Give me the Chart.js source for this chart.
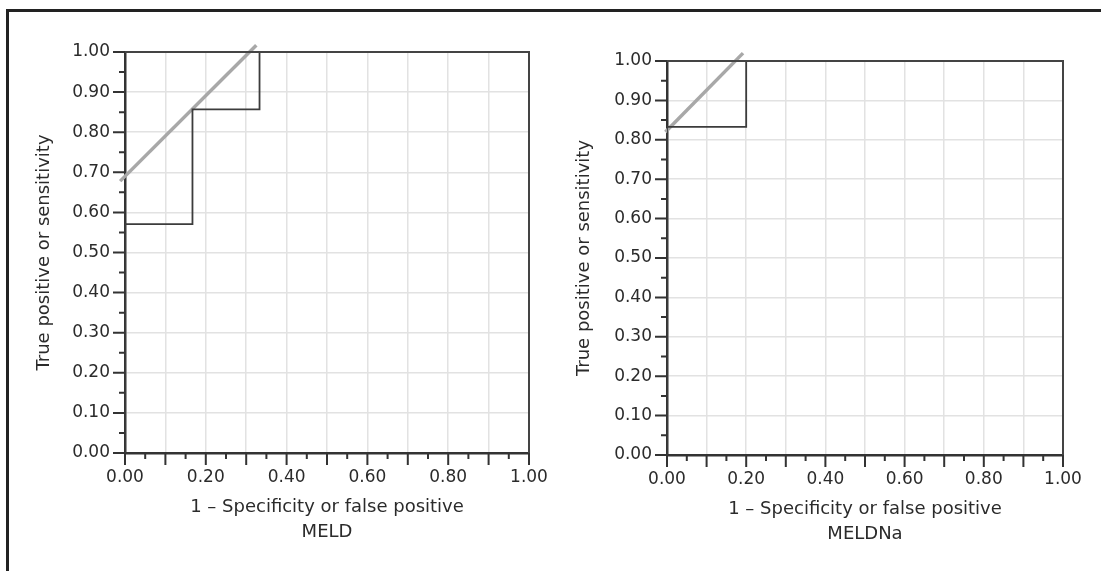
<!DOCTYPE html>
<html>
<head>
<meta charset="utf-8">
<script src="https://cdn.jsdelivr.net/npm/chart.js@4.4.1/dist/chart.umd.min.js"></script>
<style>
  html, body { margin: 0; padding: 0; background: #fff; }
  body { width: 1101px; height: 571px; position: relative; overflow: hidden; }
  .frame { position: absolute; left: 6px; top: 9px; right: -10px; bottom: -10px;
           border-top: 3px solid #222; border-left: 3px solid #222; }
  canvas { position: absolute; top: 0; }
  #meld { left: 0; }
  #meldna { left: 540px; }
</style>
</head>
<body>
<div class="frame"></div>
<canvas id="meld" width="590" height="571"></canvas>
<canvas id="meldna" width="561" height="571"></canvas>
<script>
// ROC step curves (1 - specificity, sensitivity)
const meldFpr = [0, 0, 0.167, 0.167, 0.333, 0.333, 1];
const meldTpr = [0, 0.571, 0.571, 0.857, 0.857, 1, 1];
const meldnaFpr = [0, 0, 0.2, 0.2, 1];
const meldnaTpr = [0, 0.833, 0.833, 1, 1];

// grey cut-off lines
const meldCutX = [-0.012, 0.325];
const meldCutY = [0.678, 1.017];
const meldnaCutX = [-0.004, 0.192];
const meldnaCutY = [0.82, 1.02];

const xTitle = '1 \u2013 Specificity or false positive';
const yTitle = 'True positive or sensitivity';

const FONT = 'DejaVu Sans';

function toPoints(xs, ys) {
    return xs.map((x, i) => ({ x: x, y: ys[i] }));
}

// draws the plot frame and the outward tick marks (major every 0.1, minor at 0.05)
const frameTicks = {
    id: 'frameTicks',
    afterDraw(chart) {
        const ctx = chart.ctx;
        const a = chart.chartArea;
        const xs = chart.scales.x;
        const ys = chart.scales.y;
        ctx.save();
        ctx.strokeStyle = '#444';
        ctx.lineWidth = 2;
        ctx.beginPath();
        ctx.moveTo(a.left, a.top);
        ctx.lineTo(a.right, a.top);
        ctx.lineTo(a.right, a.bottom);
        ctx.stroke();

        ctx.strokeStyle = '#333';
        ctx.lineWidth = 2;
        ctx.beginPath();
        for (let i = 0; i <= 20; i++) {
            const len = i % 2 === 0 ? 12 : 6;
            const px = xs.getPixelForValue(i / 20);
            ctx.moveTo(px, a.bottom);
            ctx.lineTo(px, a.bottom + len);
            const py = ys.getPixelForValue(i / 20);
            ctx.moveTo(a.left, py);
            ctx.lineTo(a.left - len, py);
        }
        ctx.stroke();
        ctx.restore();
    }
};

function makeChart(id, fpr, tpr, cutX, cutY, name, geo) {
    return new Chart(document.getElementById(id), {
        type: 'scatter',
        data: {
            datasets: [{
                data: toPoints(fpr, tpr),
                showLine: true,
                borderColor: '#3c3c3c',
                borderWidth: 1.8,
                pointRadius: 0,
                tension: 0
            }, {
                data: toPoints(cutX, cutY),
                showLine: true,
                borderColor: '#a8a8a8',
                borderWidth: 3.5,
                pointRadius: 0,
                clip: false
            }]
        },
        options: {
            responsive: false,
            animation: false,
            layout: { padding: geo.padding },
            plugins: {
                legend: { display: false },
                tooltip: { enabled: false }
            },
            scales: {
                x: {
                    type: 'linear',
                    min: 0,
                    max: 1,
                    afterFit: (s) => { s.height = 100; },
                    border: { display: true, color: '#333', width: 2.5 },
                    grid: { color: '#e2e2e2', lineWidth: 1.5, drawTicks: false },
                    ticks: {
                        stepSize: 0.1,
                        autoSkip: false,
                        maxRotation: 0,
                        padding: 14,
                        color: '#2b2b2b',
                        font: { family: FONT, size: 17 },
                        callback: (v, i) => (i % 2 === 0 ? Number(v).toFixed(2) : '')
                    },
                    title: {
                        display: true,
                        text: [xTitle, name],
                        color: '#2b2b2b',
                        font: { family: FONT, size: 18, lineHeight: 1.39 },
                        padding: { top: 0, bottom: 8 }
                    }
                },
                y: {
                    type: 'linear',
                    min: 0,
                    max: 1,
                    afterFit: (s) => { s.width = geo.yWidth; },
                    border: { display: true, color: '#333', width: 2.5 },
                    grid: { color: '#e2e2e2', lineWidth: 1.5, drawTicks: false },
                    ticks: {
                        stepSize: 0.1,
                        autoSkip: false,
                        padding: 15,
                        color: '#2b2b2b',
                        font: { family: FONT, size: 17 },
                        callback: (v) => Number(v).toFixed(2)
                    },
                    title: {
                        display: true,
                        text: yTitle,
                        color: '#2b2b2b',
                        font: { family: FONT, size: 18, lineHeight: 1.2 },
                        padding: { top: geo.yTitlePad, bottom: 0 }
                    }
                }
            }
        },
        plugins: [frameTicks]
    });
}

makeChart('meld', meldFpr, meldTpr, meldCutX, meldCutY, 'MELD', {
    padding: { left: 0, top: 52, right: 61, bottom: 18 },
    yWidth: 125,
    yTitlePad: 34
});
makeChart('meldna', meldnaFpr, meldnaTpr, meldnaCutX, meldnaCutY, 'MELDNa', {
    padding: { left: 0, top: 61, right: 38, bottom: 16 },
    yWidth: 127,
    yTitlePad: 34
});
</script>
</body>
</html>
